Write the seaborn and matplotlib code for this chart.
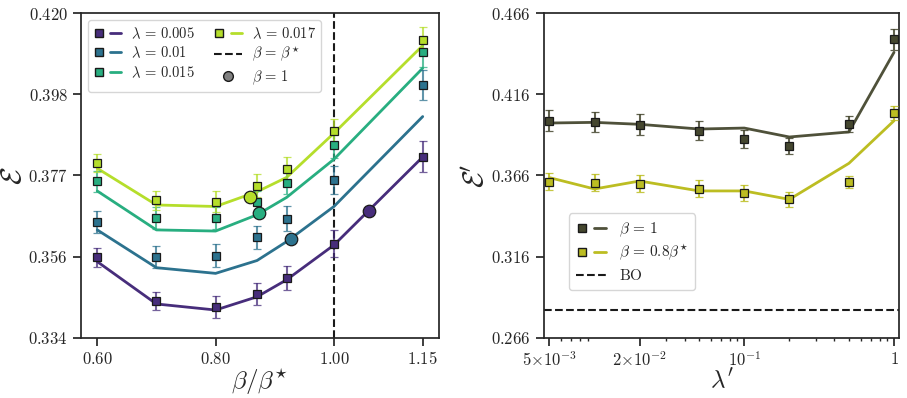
import numpy as np
import pandas as pd
import seaborn as sns
import matplotlib
matplotlib.use("Agg")
import matplotlib.pyplot as plt
from matplotlib.lines import Line2D
from matplotlib.legend_handler import HandlerTuple
from matplotlib.ticker import LogLocator, NullFormatter
from matplotlib.colors import to_rgba

# left panel: generalisation error vs beta/beta*
beta_ratio = [0.60, 0.70, 0.80, 0.87, 0.92, 1.00, 1.15]
lambdas = ["0.005", "0.01", "0.015", "0.017"]
sim_005 = [0.3553, 0.3438, 0.3423, 0.3456, 0.3498, 0.3590, 0.3820]
sim_010 = [0.3648, 0.3554, 0.3558, 0.3606, 0.3656, 0.3759, 0.4010]
sim_015 = [0.3755, 0.3658, 0.3658, 0.3701, 0.3750, 0.3850, 0.4097]
sim_017 = [0.3804, 0.3704, 0.3701, 0.3743, 0.3788, 0.3889, 0.4129]
err_005 = [0.0024, 0.0025, 0.0029, 0.0030, 0.0032, 0.0037, 0.0042]
err_010 = [0.0029, 0.0029, 0.0030, 0.0031, 0.0033, 0.0037, 0.0040]
err_015 = [0.0028, 0.0029, 0.0029, 0.0029, 0.0030, 0.0033, 0.0040]
err_017 = [0.0024, 0.0026, 0.0027, 0.0030, 0.0030, 0.0030, 0.0035]
th_005 = [0.3542, 0.3430, 0.3414, 0.3449, 0.3494, 0.3586, 0.3819]
th_010 = [0.3626, 0.3526, 0.3511, 0.3545, 0.3595, 0.3688, 0.3926]
th_015 = [0.3729, 0.3626, 0.3623, 0.3666, 0.3712, 0.3813, 0.4054]
th_017 = [0.3789, 0.3692, 0.3688, 0.3727, 0.3765, 0.3882, 0.4114]
beta1_x = [1.06, 0.927, 0.873, 0.858]
beta1_y = [0.3676, 0.3601, 0.3670, 0.3712]
left_yticks = [0.334, 0.3555, 0.377, 0.3985, 0.420]
left_yticklabels = ["0.334", "0.356", "0.377", "0.398", "0.420"]
left_xticks = [0.60, 0.80, 1.00, 1.15]

# right panel: vs lambda'
lam_prime = [0.005, 0.01, 0.02, 0.05, 0.1, 0.2, 0.5, 1.0]
sim_b1 = [0.3997, 0.3989, 0.3973, 0.3936, 0.3886, 0.3843, 0.3977, 0.4498]
err_b1 = [0.0065, 0.0064, 0.0063, 0.0057, 0.0055, 0.0050, 0.0052, 0.0064]
th_b1 = [0.3983, 0.3987, 0.3975, 0.3946, 0.3952, 0.3897, 0.3928, 0.4418]
sim_b08 = [0.3622, 0.3616, 0.3610, 0.3579, 0.3550, 0.3515, 0.3620, 0.4045]
err_b08 = [0.0053, 0.0052, 0.0054, 0.0052, 0.0050, 0.0046, 0.0039, 0.0045]
th_b08 = [0.3647, 0.3577, 0.3626, 0.3565, 0.3565, 0.3513, 0.3735, 0.3997]
bo_value = 0.283
right_yticks = [0.266, 0.316, 0.366, 0.416, 0.466]
right_xticks = [0.005, 0.02, 0.1, 1.0]
right_xticklabels = [r"$5{\times}10^{-3}$", r"$2{\times}10^{-2}$", r"$10^{-1}$", r"$1$"]

sns.set_theme(style="ticks", rc={"axes.edgecolor": ".15", "xtick.color": ".15",
                                 "ytick.color": ".15", "text.color": ".15"})
plt.rcParams["mathtext.fontset"] = "cm"
plt.rcParams["font.family"] = ["DejaVu Serif"]

colors = ["#472d7b", "#2c728e", "#28ae80", "#b5de2b"]
sims = [sim_005, sim_010, sim_015, sim_017]
errs = [err_005, err_010, err_015, err_017]
ths = [th_005, th_010, th_015, th_017]

fig = plt.figure(figsize=(9.07, 3.98), dpi=100)
ax1 = fig.add_axes([0.0893, 0.1508, 0.3947, 0.8165])
ax2 = fig.add_axes([0.5998, 0.1508, 0.3914, 0.8165])

rows = []
for lam, th in zip(lambdas, ths):
    for b, v in zip(beta_ratio, th):
        rows.append({"beta": b, "err": v, "lam": lam})
df_left = pd.DataFrame(rows)
sns.lineplot(data=df_left, x="beta", y="err", hue="lam", palette=dict(zip(lambdas, colors)),
             linewidth=2, legend=False, ax=ax1, zorder=2)

for c, s, e in zip(colors, sims, errs):
    ax1.errorbar(beta_ratio, s, yerr=e, fmt="s", color=c, mec="k", mew=0.9, ms=6,
                 ecolor=to_rgba(c, 0.75), elinewidth=1.5, capsize=3, zorder=3)
for c, x, y in zip(colors, beta1_x, beta1_y):
    ax1.plot(x, y, "o", color=c, mec="k", mew=0.9, ms=9, zorder=4)
ax1.axvline(1.0, color="k", ls="--", lw=1.5, zorder=1)

ax1.set_ylim(0.334, 0.420)
ax1.set_yticks(left_yticks, labels=[f"${t}$" for t in left_yticklabels])
ax1.set_xticks(left_xticks, labels=[f"${t:.2f}$" for t in left_xticks])
ax1.set_xlabel(r"$\beta/\beta^{\star}$", fontsize=18, labelpad=-1)
ax1.set_ylabel(r"$\mathcal{E}$", fontsize=21, labelpad=1)
ax1.tick_params(labelsize=12)

handles = [(Line2D([], [], marker="s", ls="none", color=c, mec="k", ms=6),
            Line2D([], [], color=c, lw=2)) for c in colors[:3]]
handles += [(Line2D([], [], marker="s", ls="none", color=colors[3], mec="k", ms=6),
             Line2D([], [], color=colors[3], lw=2)),
            Line2D([], [], color="k", ls="--", lw=1.5),
            Line2D([], [], marker="o", ls="none", color="grey", mec="k", ms=7)]
labels = [rf"$\lambda\,=\,{l}$" for l in lambdas[:3]] + [rf"$\lambda\,=\,{lambdas[3]}$",
                                                        r"$\beta\,=\,\beta^{\star}$", r"$\beta\,=\,1$"]
ax1.legend(handles, labels, ncol=2, loc="upper left", fontsize=10.5, handlelength=1.9,
           handler_map={tuple: HandlerTuple(ndivide=None, pad=0.4)}, columnspacing=1.3,
           labelspacing=0.3, borderpad=0.35, handletextpad=0.7)

# right panel
dark = "#45472f"
olive = "#bcbd22"
df_right = pd.DataFrame({"lam": lam_prime * 2, "err": th_b1 + th_b08,
                         "beta": ["1"] * len(lam_prime) + ["0.8"] * len(lam_prime)})
sns.lineplot(data=df_right, x="lam", y="err", hue="beta", palette={"1": "#4f513a", "0.8": olive},
             linewidth=2, legend=False, ax=ax2, zorder=2)
ax2.errorbar(lam_prime, sim_b1, yerr=err_b1, fmt="s", color=dark, mec="k", mew=0.9, ms=6,
             ecolor=to_rgba(dark, 0.85), elinewidth=1.5, capsize=3, zorder=3)
ax2.errorbar(lam_prime, sim_b08, yerr=err_b08, fmt="s", color=olive, mec="k", mew=0.9, ms=6,
             ecolor=to_rgba(olive, 0.85), elinewidth=1.5, capsize=3, zorder=3)
ax2.axhline(bo_value, color="k", ls="--", lw=1.5)

ax2.set_xscale("log")
ax2.set_xlim(0.0046, 1.08)
ax2.set_ylim(0.266, 0.466)
ax2.set_xticks(right_xticks, labels=right_xticklabels)
ax2.xaxis.set_minor_locator(LogLocator(base=10, subs=np.arange(2, 10)))
ax2.xaxis.set_minor_formatter(NullFormatter())
ax2.set_yticks(right_yticks, labels=[f"${t:.3f}$" for t in right_yticks])
ax2.set_xlabel(r"$\lambda'$", fontsize=18, labelpad=-1)
ax2.set_ylabel(r"$\mathcal{E}'$", fontsize=21, labelpad=1)
ax2.tick_params(labelsize=12)
ax2.tick_params(which="minor", length=2)

h2 = [(Line2D([], [], marker="s", ls="none", color=dark, mec="k", ms=6),
       Line2D([], [], color="#4f513a", lw=2)),
      (Line2D([], [], marker="s", ls="none", color=olive, mec="k", ms=6),
       Line2D([], [], color=olive, lw=2)),
      Line2D([], [], color="k", ls="--", lw=1.5)]
l2 = [r"$\beta\,=\,1$", r"$\beta\,=\,0.8\beta^{\star}$", r"$\mathrm{BO}$"]
ax2.legend(h2, l2, loc="lower left", bbox_to_anchor=(0.07, 0.148), borderaxespad=0,
           fontsize=11, handlelength=2.0, handler_map={tuple: HandlerTuple(ndivide=None, pad=0.4)},
           labelspacing=0.3, borderpad=0.45, handletextpad=0.8)

fig.savefig("out.png", dpi=100)
